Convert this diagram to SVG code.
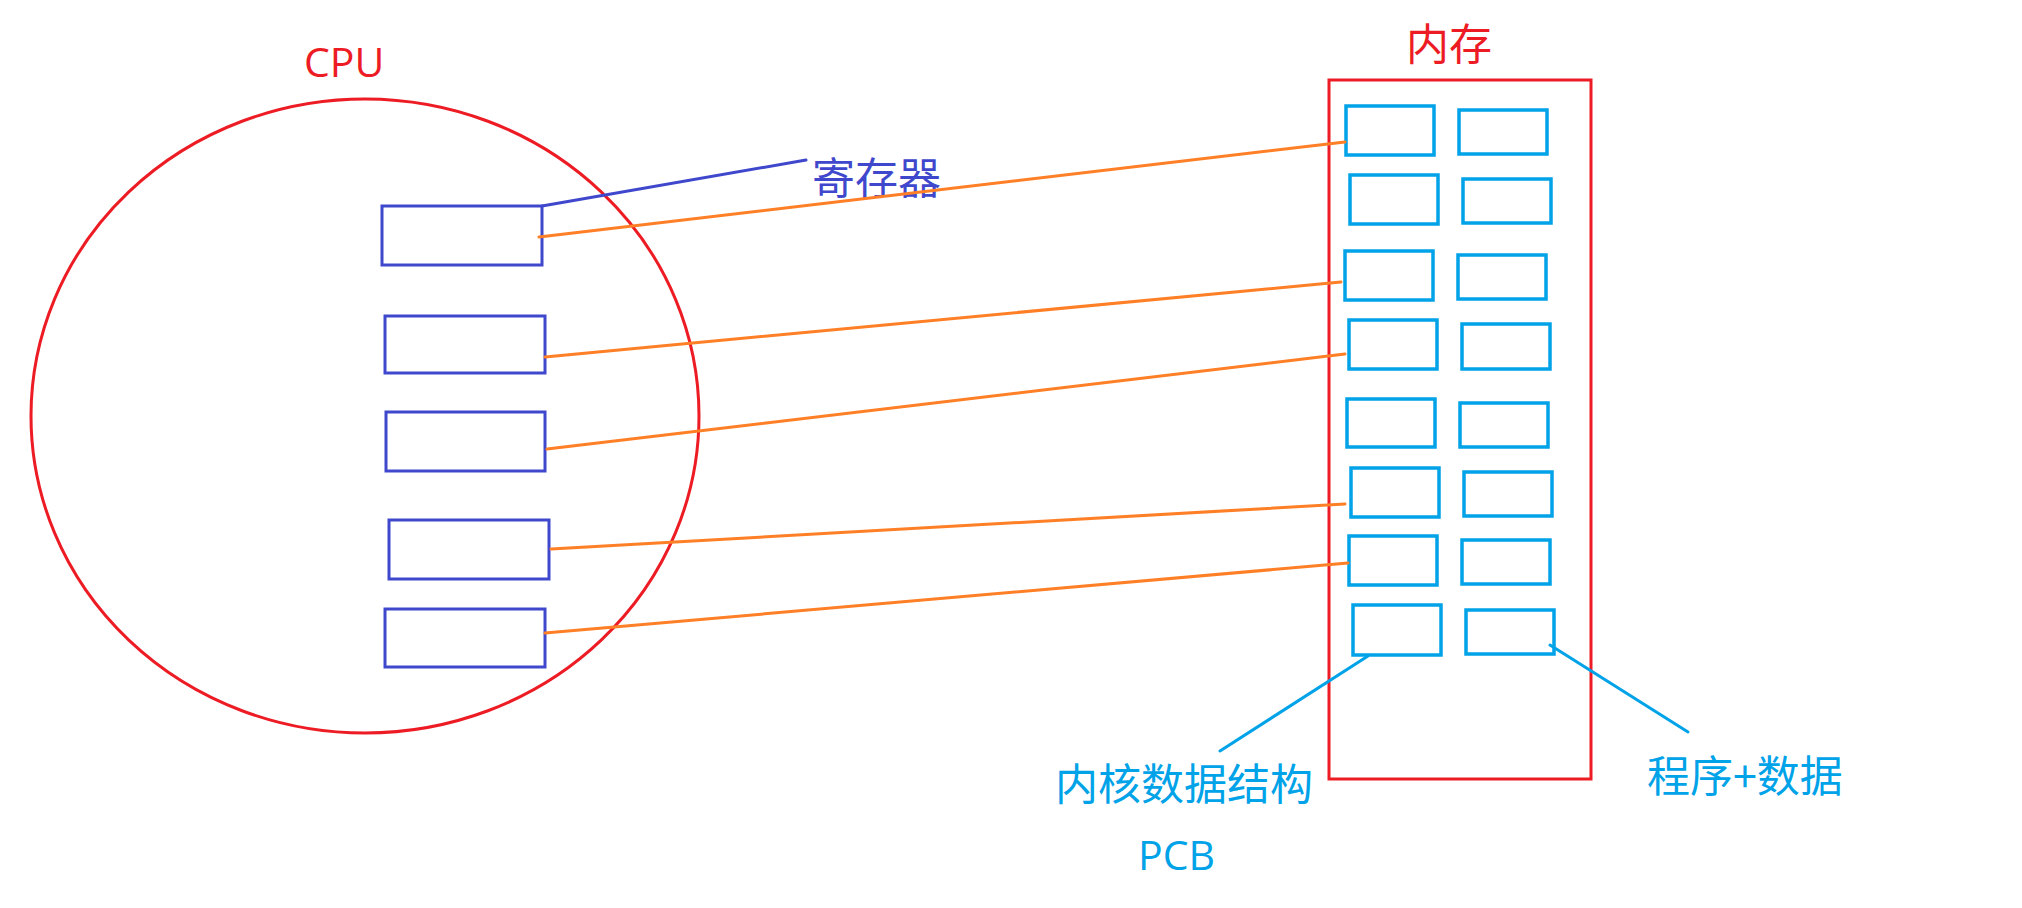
<svg xmlns="http://www.w3.org/2000/svg" width="2022" height="908" viewBox="0 0 2022 908">
<style>
.red{fill:none;stroke:#ED1C24;stroke-width:3}
.reg{fill:none;stroke:#3F48CC;stroke-width:3}
.mem{fill:none;stroke:#00A2E8;stroke-width:3.5}
.ol{stroke:#FF7F27;stroke-width:3;fill:none;stroke-linecap:round}
.bl{stroke:#3F48CC;stroke-width:3;fill:none;stroke-linecap:round}
.cl{stroke:#00A2E8;stroke-width:3;fill:none;stroke-linecap:round}
.t{font-family:"Open Sans","Noto Sans CJK SC",sans-serif;font-size:41px}
.c{font-family:"Noto Sans CJK SC",sans-serif;font-size:43px}
</style>
<rect width="2022" height="908" fill="#fff"/>
<g id="cpu">
<ellipse class="red" cx="365" cy="416" rx="334" ry="317"/>
<text class="t" x="304" y="77" fill="#ED1C24">CPU</text>
</g>
<g id="registers">
<rect class="reg" x="382" y="206" width="160" height="59"/>
<rect class="reg" x="385" y="316" width="160" height="57"/>
<rect class="reg" x="386" y="412" width="159" height="59"/>
<rect class="reg" x="389" y="520" width="160" height="59"/>
<rect class="reg" x="385" y="609" width="160" height="58"/>
<text class="c" x="812" y="194" fill="#3F48CC">寄存器</text>
</g>
<g id="memory">
<rect class="red" x="1329" y="80" width="262" height="699" stroke-width="3.5"/>
<text class="c" x="1406" y="60" fill="#ED1C24">内存</text>
<rect class="mem" x="1346" y="106" width="88" height="49"/>
<rect class="mem" x="1459" y="110" width="88" height="44"/>
<rect class="mem" x="1350" y="175" width="88" height="49"/>
<rect class="mem" x="1463" y="179" width="88" height="44"/>
<rect class="mem" x="1345" y="251" width="88" height="49"/>
<rect class="mem" x="1458" y="255" width="88" height="44"/>
<rect class="mem" x="1349" y="320" width="88" height="49"/>
<rect class="mem" x="1462" y="324" width="88" height="45"/>
<rect class="mem" x="1347" y="399" width="88" height="48"/>
<rect class="mem" x="1460" y="403" width="88" height="44"/>
<rect class="mem" x="1351" y="468" width="88" height="49"/>
<rect class="mem" x="1464" y="472" width="88" height="44"/>
<rect class="mem" x="1349" y="536" width="88" height="49"/>
<rect class="mem" x="1462" y="540" width="88" height="44"/>
<rect class="mem" x="1353" y="605" width="88" height="50"/>
<rect class="mem" x="1466" y="610" width="88" height="44"/>
</g>
<g id="label-pcb">
<text class="c" x="1055" y="800" fill="#00A2E8">内核数据结构</text>
<text class="t" x="1138" y="870" fill="#00A2E8" font-size="39">PCB</text>
</g>
<g id="label-program">
<text class="c" x="1647" y="792" fill="#00A2E8">程序+数据</text>
</g>
<g id="connectors">
<line class="bl" x1="542" y1="206" x2="806" y2="160"/>
<line class="ol" x1="539" y1="237" x2="1345" y2="142"/>
<line class="ol" x1="545" y1="357" x2="1341" y2="282"/>
<line class="ol" x1="547" y1="449" x2="1345" y2="354"/>
<line class="ol" x1="551" y1="549" x2="1345" y2="504"/>
<line class="ol" x1="545" y1="633" x2="1348" y2="563"/>
<line class="cl" x1="1368" y1="656" x2="1220" y2="751"/>
<line class="cl" x1="1550" y1="645" x2="1688" y2="732"/>
</g>
</svg>
